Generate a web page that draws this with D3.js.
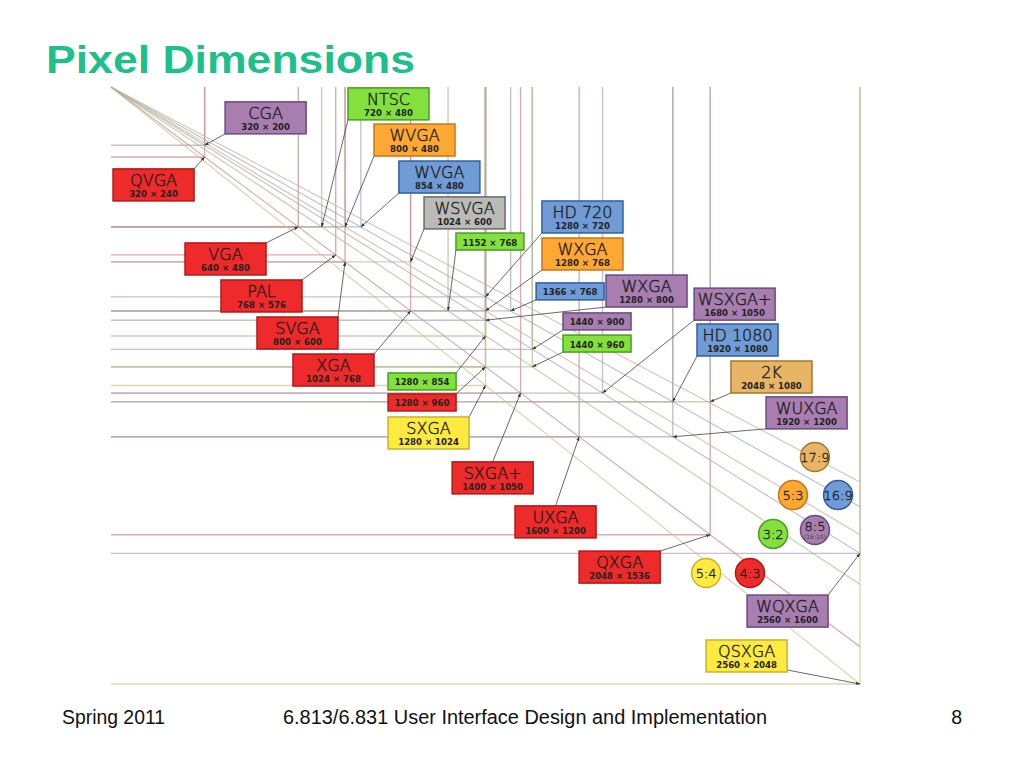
<!DOCTYPE html>
<html>
<head>
<meta charset="utf-8">
<script src="https://cdn.jsdelivr.net/npm/d3@7"></script>
<style>
  html, body { margin: 0; padding: 0; background: #fff; }
  svg { display: block; }
</style>
</head>
<body>
<svg id="chart" width="1024" height="768"></svg>
<script>
// display standards: name, pixel size, aspect family (colour)
const resNames = ["CGA", "QVGA", "NTSC", "WVGA", "WVGA", "WSVGA", "", "VGA", "PAL", "SVGA", "XGA",
  "", "", "SXGA", "SXGA+", "UXGA", "QXGA", "WQXGA", "QSXGA",
  "HD 720", "WXGA", "", "WXGA", "", "", "WSXGA+", "HD 1080", "2K", "WUXGA"];
const resWidths = [320, 320, 720, 800, 854, 1024, 1152, 640, 768, 800, 1024,
  1280, 1280, 1280, 1400, 1600, 2048, 2560, 2560,
  1280, 1280, 1366, 1280, 1440, 1440, 1680, 1920, 2048, 1920];
const resHeights = [200, 240, 480, 480, 480, 600, 768, 480, 576, 600, 768,
  854, 960, 1024, 1050, 1200, 1536, 1600, 2048,
  720, 768, 768, 800, 900, 960, 1050, 1080, 1080, 1200];
const resAspect = ["8:5", "4:3", "3:2", "5:3", "16:9", "other", "3:2", "4:3", "4:3", "4:3", "4:3",
  "3:2", "4:3", "5:4", "4:3", "4:3", "4:3", "8:5", "5:4",
  "16:9", "5:3", "16:9", "8:5", "8:5", "3:2", "8:5", "16:9", "17:9", "8:5"];

// where each label box sits, in the same pixel-size units as the chart
const labelW = [390, 7, 810, 899, 984, 1070, 1179, 253, 376, 499, 622,
  947, 947, 947, 1166, 1381, 1600, 2174, 2034,
  1473, 1473, 1453, 1692, 1545, 1545, 1993, 2003, 2119, 2239];
const labelH = [51, 281, 3, 127, 254, 377, 501, 535, 662, 789, 916,
  981, 1053, 1132, 1286, 1437, 1592, 1743, 1897,
  391, 518, 672, 645, 775, 851, 690, 813, 940, 1063];
const labelAnchor = ["bl", "tr", "bl", "bl", "bl", "bl", "bl", "tr", "tr", "tr", "tr",
  "tr", "tr", "tr", "tc", "tc", "tr", "tr", "br",
  "bl", "bl", "bl", "bl", "bl", "bl", "bl", "bl", "bl", "bl"];

// aspect ratio rays and their badges
const aspectLabels = ["5:4", "4:3", "3:2", "8:5", "5:3", "16:9", "17:9"];
const aspectW = [5, 4, 3, 8, 5, 16, 17];
const aspectH = [4, 3, 2, 5, 3, 9, 9];
const badgeW = [2034, 2184, 2263, 2406, 2331, 2485, 2406];
const badgeH = [1667, 1667, 1533, 1520, 1400, 1400, 1269];

const fills = { "4:3": "#ee2a2a", "8:5": "#a87db0", "3:2": "#84e03c", "5:3": "#ffa733",
  "16:9": "#6f9bd6", "5:4": "#ffea40", "17:9": "#e8b466", "other": "#babbb7" };
const strokes = { "4:3": "#b01818", "8:5": "#6b4a7e", "3:2": "#4c9c22", "5:3": "#c7771a",
  "16:9": "#2f5f9f", "5:4": "#c9b22a", "17:9": "#a5772c", "other": "#6a6a6a" };
// pale greyish version of a family colour, for the thin guide lines
const pale = k => d3.interpolateRgb(fills[k], "#b4b4b4")(0.7);

const svg = d3.select("#chart");

const x = d3.scaleLinear().domain([0, 2560]).range([111, 860]);
const y = d3.scaleLinear().domain([0, 2048]).range([87, 684]);

const res = resNames.map((n, i) => ({
  name: n, w: resWidths[i], h: resHeights[i], aspect: resAspect[i],
  lw: labelW[i], lh: labelH[i], anchor: labelAnchor[i]
}));

svg.append("defs").append("marker")
  .attr("id", "arrow")
  .attr("viewBox", "0 0 10 10")
  .attr("refX", 10).attr("refY", 5)
  .attr("markerWidth", 5).attr("markerHeight", 5)
  .attr("orient", "auto")
  .append("path").attr("d", "M0,1L10,5L0,9z").attr("fill", "#333");

// title + footer
svg.append("text")
  .attr("x", 46).attr("y", 73)
  .attr("font-family", "Liberation Sans, Arial, sans-serif")
  .attr("font-weight", "bold").attr("font-size", 39)
  .attr("textLength", 369).attr("lengthAdjust", "spacingAndGlyphs")
  .attr("fill", "#1fbf8c")
  .text("Pixel Dimensions");

const foot = svg.append("g")
  .attr("font-family", "Liberation Sans, Arial, sans-serif")
  .attr("font-size", 19.5).attr("fill", "#111");
foot.append("text").attr("x", 62).attr("y", 724)
  .attr("textLength", 103).attr("lengthAdjust", "spacingAndGlyphs")
  .text("Spring 2011");
foot.append("text").attr("x", 283).attr("y", 724)
  .attr("textLength", 484).attr("lengthAdjust", "spacingAndGlyphs")
  .text("6.813/6.831 User Interface Design and Implementation");
foot.append("text").attr("x", 962).attr("y", 724).attr("text-anchor", "end").text("8");

// frame lines of every resolution
svg.append("g")
  .selectAll("path")
  .data(res)
  .join("path")
  .attr("d", d => `M${x(d.w)},${y(0)}V${y(d.h)}H${x(0)}`)
  .attr("fill", "none")
  .attr("stroke", d => pale(d.aspect))
  .attr("stroke-opacity", 0.7)
  .attr("stroke-width", 1.4);

// aspect rays from the origin
svg.append("g")
  .selectAll("line")
  .data(aspectLabels)
  .join("line")
  .attr("x1", x(0)).attr("y1", y(0))
  .attr("x2", (d, i) => x(Math.min(2560, 2048 * aspectW[i] / aspectH[i])))
  .attr("y2", (d, i) => y(Math.min(2048, 2560 * aspectH[i] / aspectW[i])))
  .attr("stroke", d => pale(d))
  .attr("stroke-opacity", 0.75)
  .attr("stroke-width", 1.1);

const boxSize = d => d.name ? [81, 32] : [68, 17];

function anchorPoint(d) {
  const [bw, bh] = boxSize(d);
  const bx = x(d.lw), by = y(d.lh);
  if (d.anchor === "tr") return [bx + bw, by];
  if (d.anchor === "tc") return [bx + bw / 2, by];
  if (d.anchor === "br") return [bx + bw, by + bh - 2];
  return [bx, by + bh];
}

// pointers
svg.append("g")
  .selectAll("line")
  .data(res)
  .join("line")
  .attr("x1", d => anchorPoint(d)[0])
  .attr("y1", d => anchorPoint(d)[1])
  .attr("x2", d => x(d.w))
  .attr("y2", d => y(d.h))
  .attr("stroke", "#444")
  .attr("stroke-width", 0.8)
  .attr("marker-end", "url(#arrow)");

// label boxes
const lab = svg.append("g")
  .selectAll("g")
  .data(res)
  .join("g")
  .attr("transform", d => `translate(${x(d.lw)},${y(d.lh)})`);

lab.append("rect")
  .attr("width", d => boxSize(d)[0])
  .attr("height", d => boxSize(d)[1])
  .attr("fill", d => fills[d.aspect])
  .attr("stroke", d => strokes[d.aspect])
  .attr("stroke-width", 1.5);

lab.filter(d => d.name).append("text")
  .attr("x", 40.5).attr("y", 17)
  .attr("text-anchor", "middle")
  .attr("font-family", "DejaVu Sans, sans-serif")
  .attr("font-weight", 300)
  .attr("font-size", 16)
  .attr("fill", "#1e1e1e")
  .attr("stroke", "#1e1e1e")
  .attr("stroke-width", 0.4)
  .text(d => d.name);

lab.append("text")
  .attr("x", d => boxSize(d)[0] / 2)
  .attr("y", d => d.name ? 28 : 12.5)
  .attr("text-anchor", "middle")
  .attr("font-family", "DejaVu Sans Condensed, DejaVu Sans, sans-serif")
  .attr("font-weight", "bold")
  .attr("font-size", 9.5)
  .attr("fill", "#222")
  .text(d => `${d.w} × ${d.h}`);

// aspect badges
const badge = svg.append("g")
  .selectAll("g")
  .data(aspectLabels)
  .join("g")
  .attr("transform", (d, i) => `translate(${x(badgeW[i])},${y(badgeH[i])})`);

badge.append("circle")
  .attr("r", 14.5)
  .attr("fill", d => fills[d])
  .attr("stroke", d => strokes[d])
  .attr("stroke-width", 1.5);

badge.append("text")
  .attr("y", d => d === "8:5" ? 1 : 5)
  .attr("text-anchor", "middle")
  .attr("font-family", "DejaVu Sans, sans-serif")
  .attr("font-weight", 300)
  .attr("font-size", 13)
  .attr("fill", "#1e1e1e")
  .attr("stroke", "#1e1e1e")
  .attr("stroke-width", 0.35)
  .text(d => d);

badge.filter(d => d === "8:5").append("text")
  .attr("y", 9)
  .attr("text-anchor", "middle")
  .attr("font-family", "DejaVu Sans, sans-serif")
  .attr("font-size", 6)
  .attr("fill", "#444")
  .text("(16:10)");
</script>
</body>
</html>
